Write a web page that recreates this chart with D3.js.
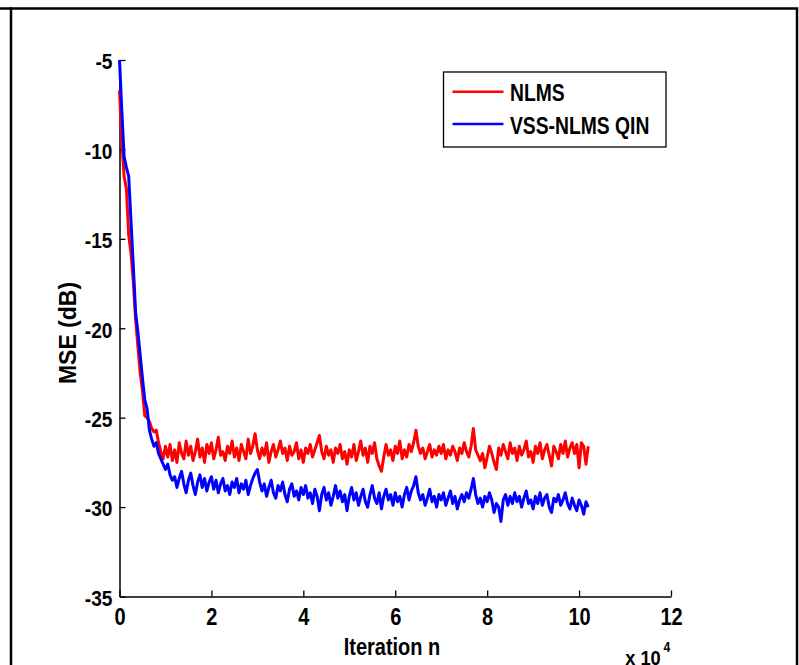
<!DOCTYPE html>
<html>
<head>
<meta charset="utf-8">
<script src="https://cdn.jsdelivr.net/npm/d3@7"></script>
<style>
  body { margin: 0; background: #fff; }
  svg { display: block; }
</style>
</head>
<body>
<div class="chart"></div>
<script>
// MSE curves, one value every 500 iterations (n = 0 .. 102000)
const STEP = 500
const nlms = [
  -6.7, -9.5, -11.5, -12.2, -14.8, -15.8, -17.4, -19.5, -21.0, -22.5,
  -23.5, -24.9, -25.0, -25.2, -25.6, -25.8, -25.7, -26.4, -26.9, -27.3,
  -26.6, -27.2, -26.5, -27.4, -26.8, -27.5, -26.4, -27.0, -27.3, -26.3,
  -27.1, -26.6, -27.4, -26.9, -26.2, -27.2, -26.7, -27.5, -26.5, -27.0,
  -26.4, -27.3, -26.8, -26.1, -27.1, -26.9, -27.4, -26.6, -27.0, -26.3,
  -27.2, -26.7, -27.4, -26.5, -26.9, -27.3, -26.2, -27.0, -26.6, -25.9,
  -26.8, -27.3, -26.7, -27.1, -26.4, -27.5, -26.9, -26.5, -27.2, -26.8,
  -26.3, -27.0, -26.7, -27.4, -26.6, -27.1, -26.9, -26.4, -27.3, -26.8,
  -27.5, -26.7, -27.0, -26.5, -27.2, -26.8, -26.4, -26.0, -26.9, -27.3,
  -26.6, -27.1, -26.8, -27.5, -26.7, -27.0, -26.5, -27.3, -26.9, -27.6,
  -26.8, -27.2, -26.5, -27.4, -26.9, -26.3, -27.1, -26.7, -27.5, -26.6,
  -27.0, -26.4, -27.3, -27.7, -28.0, -27.2, -26.5, -27.1, -26.8, -27.4,
  -26.6, -27.0, -26.3, -27.3, -26.8, -27.2, -26.5, -26.9, -26.4, -25.7,
  -26.6, -27.0, -26.7, -27.3, -26.9, -26.5, -27.2, -26.8, -27.1, -26.6,
  -27.0, -26.5, -27.3, -26.8, -27.1, -26.6, -26.9, -27.4, -26.7, -27.0,
  -26.4, -26.9, -27.2, -26.6, -25.6, -26.8, -27.1, -27.4, -27.0, -27.8,
  -27.2, -26.6, -27.0, -27.5, -27.9, -26.7, -27.1, -26.5, -26.9, -27.3,
  -26.4, -27.0, -26.7, -27.4, -26.6, -27.1, -26.8, -26.3, -27.2, -26.9,
  -27.5, -26.6, -27.0, -26.4, -27.3, -26.8, -26.5, -27.1, -27.7, -26.6,
  -26.9, -27.3, -26.5, -27.0, -26.3, -27.2, -26.7, -26.4, -27.0, -26.5,
  -27.8, -26.4, -26.6, -27.6, -26.6
]
const vssQin = [
  -5.0, -7.8, -10.4, -11.0, -11.5, -14.0, -16.5, -19.1, -20.2, -21.5,
  -22.8, -24.0, -24.5, -25.7, -26.2, -26.6, -26.4, -27.0, -27.3, -27.6,
  -27.9, -27.6, -28.2, -28.5, -28.3, -28.9, -28.4, -28.0, -28.7, -29.2,
  -28.5, -28.1, -28.8, -29.3, -28.6, -28.2, -28.9, -28.4, -29.1, -28.6,
  -28.3, -29.0, -28.5, -29.2, -28.7, -28.4, -29.1, -28.8, -29.3, -28.6,
  -28.9, -28.4, -29.2, -28.7, -29.0, -28.5, -29.3, -28.8, -28.4, -28.1,
  -27.9, -28.6, -29.1, -28.7, -29.4, -28.9, -28.5, -29.2, -29.5, -28.8,
  -29.1, -28.6, -29.3, -29.7, -29.0, -28.7, -29.4, -29.1, -29.6, -28.9,
  -29.3, -28.8, -29.5, -29.2, -29.8, -29.0, -29.4, -30.2, -29.3, -28.9,
  -29.6, -29.2, -29.9, -29.4, -28.8, -29.5, -29.1, -29.7, -29.3, -30.2,
  -29.4, -28.9, -29.6, -29.2, -29.9, -29.4, -29.0, -29.7, -30.0, -29.3,
  -28.8, -29.5, -29.8, -29.2, -30.1, -29.4, -29.0, -29.6, -29.3, -29.9,
  -29.2, -29.7, -29.4, -30.0, -29.3, -28.9, -29.6, -29.1, -28.8, -28.3,
  -29.2, -29.6, -29.3, -29.9, -29.5, -29.0, -29.7, -29.4, -30.0, -29.3,
  -29.6, -29.2, -29.9, -29.5, -29.1, -29.8, -29.4, -30.1, -29.6, -29.3,
  -29.7, -29.2, -29.5, -29.0, -28.4, -29.3, -29.8, -29.5, -30.0, -29.4,
  -29.7, -29.2, -29.6, -30.3, -29.8, -30.0, -30.8, -29.6, -29.3, -29.9,
  -29.4, -29.8, -29.2, -29.7, -29.4, -30.0, -29.5, -29.1, -29.8, -29.6,
  -30.1, -29.4, -29.8, -29.2, -29.9, -29.5, -29.3, -30.0, -30.3, -29.5,
  -29.7, -29.3, -29.9, -29.6, -29.2, -29.8, -30.1, -29.5, -29.9, -30.2,
  -29.6, -29.9, -30.4, -29.7, -30.0
]
const xTicks = [0, 20000, 40000, 60000, 80000, 100000, 120000]
const yTicks = [-35, -30, -25, -20, -15, -10, -5]
const seriesNames = ['NLMS', 'VSS-NLMS QIN']

const RED = '#ff0000'
const BLUE = '#0000ff'
const FONT = '"Liberation Sans", Arial, sans-serif'
const SQUEEZE = 0.87 // text in the picture is a bit narrow

const W = 799
const H = 665
const svg = d3.select('.chart').append('svg')
  .attr('width', W)
  .attr('height', H)

// figure frame
svg.append('rect')
  .attr('x', 11).attr('y', 8.5)
  .attr('width', 786).attr('height', 700)
  .attr('fill', 'none').attr('stroke', '#000').attr('stroke-width', 2.5)
svg.append('line')
  .attr('x1', 0).attr('x2', 12).attr('y1', 8.5).attr('y2', 8.5)
  .attr('stroke', '#000').attr('stroke-width', 2.5)

const x = d3.scaleLinear().domain([0, 120000]).range([119.5, 671])
const y = d3.scaleLinear().domain([-35, -5]).range([596.5, 60])

const styleTicks = (g, size) => {
  g.select('.domain').attr('stroke-width', 1.5)
  g.selectAll('.tick line').attr('stroke-width', 1.3)
  g.selectAll('.tick text')
    .attr('fill', '#000')
    .attr('font-family', FONT)
    .attr('font-weight', 'bold')
    .attr('font-size', size)
}

const xAxis = svg.append('g')
  .attr('transform', `translate(0,${y(-35)})`)
  .call(d3.axisBottom(x).tickValues(xTicks).tickFormat(d => String(d / 10000))
    .tickSizeInner(-6).tickSizeOuter(0).tickPadding(12))
styleTicks(xAxis, 23)
xAxis.selectAll('.tick text').attr('transform', `scale(${SQUEEZE},1)`)

const yAxis = svg.append('g')
  .attr('transform', `translate(${x(0)},0)`)
  .call(d3.axisLeft(y).tickValues(yTicks).tickFormat(d => String(d))
    .tickSizeInner(-6).tickSizeOuter(0).tickPadding(7))
styleTicks(yAxis, 22)
yAxis.selectAll('.tick text')
  .attr('x', -7 / SQUEEZE)
  .attr('dy', '0.40em')
  .attr('transform', `scale(${SQUEEZE},1)`)

// curves
const line = d3.line()
  .x((d, i) => x(i * STEP))
  .y(d => y(d))

const addLine = (data, color) => {
  svg.append('path')
    .datum(data)
    .attr('fill', 'none')
    .attr('stroke', color)
    .attr('stroke-width', 3)
    .attr('stroke-linejoin', 'round')
    .attr('d', line)
}
addLine(nlms, RED)
addLine(vssQin, BLUE)

// axis labels
const addText = (tx, ty, str, size, anchor, extra) => {
  return svg.append('text')
    .attr('transform', `translate(${tx},${ty}) ${extra || ''}`)
    .attr('text-anchor', anchor)
    .attr('font-family', FONT)
    .attr('font-weight', 'bold')
    .attr('font-size', size)
    .attr('fill', '#000')
    .text(str)
}
addText(392, 655, 'Iteration n', 23, 'middle', `scale(${SQUEEZE},1)`)
addText(76, 333, 'MSE (dB)', 23, 'middle', 'rotate(-90)')
addText(643, 665, 'x 10', 21, 'middle', `scale(${SQUEEZE},1)`)
addText(667, 652, '4', 14, 'middle', `scale(${SQUEEZE},1)`)

// legend
const legend = svg.append('g')
legend.append('rect')
  .attr('x', 443.5).attr('y', 72)
  .attr('width', 222.5).attr('height', 75)
  .attr('fill', '#fff').attr('stroke', '#000').attr('stroke-width', 1.3)
const legendColors = [RED, BLUE]
const legendY = [91.7, 124]
seriesNames.forEach((name, i) => {
  legend.append('line')
    .attr('x1', 452.5).attr('x2', 503.5)
    .attr('y1', legendY[i]).attr('y2', legendY[i])
    .attr('stroke', legendColors[i]).attr('stroke-width', 2.6)
  addText(510, legendY[i] + 9.5, name, 23, 'start', 'scale(0.84,1)')
})
</script>
</body>
</html>
